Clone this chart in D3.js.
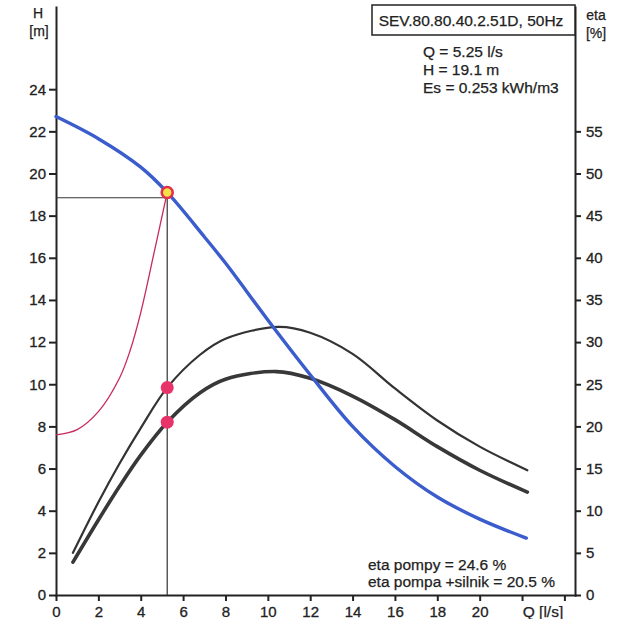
<!DOCTYPE html>
<html>
<head>
<meta charset="utf-8">
<script src="https://cdn.jsdelivr.net/npm/d3@7/dist/d3.min.js"></script>
<style>
	body { margin: 0; background: #fff; }
	svg { display: block; font-family: "Liberation Sans", Arial, sans-serif; }
	.axis path, .axis line { stroke: #222; stroke-width: 2; }
	.axis text { fill: #222; font-size: 15px; stroke: #222; stroke-width: 0.3; }
	.note { fill: #222; font-size: 15.5px; stroke: #222; stroke-width: 0.25; }
	.unit { fill: #222; font-size: 14px; stroke: #222; stroke-width: 0.25; }
</style>
</head>
<body>
<svg id="chart" width="627" height="619"></svg>
<script>
// flow [l/s] and head [m] of the pump curve
var headQ = [0, 2, 4, 5.25, 7, 8, 10, 12, 14, 16, 18, 20, 22.2];
var headH = [22.7, 21.65, 20.3, 19.1, 17.0, 15.75, 13.05, 10.45, 8.0, 6.1, 4.65, 3.6, 2.7];

// eta pompy [%]
var etaPumpQ = [0.8, 2, 3, 4, 5.25, 6.8, 8, 10.5, 12, 14, 16, 18, 20, 22.25];
var etaPump = [5.0, 11.0, 15.6, 19.8, 24.6, 28.5, 30.4, 31.8, 31.1, 28.6, 24.5, 20.7, 17.6, 14.8];

// eta pompa + silnik [%]
var etaTotalQ = [0.8, 2, 3, 4, 5.25, 6.8, 8, 10.4, 12, 14, 16, 18, 20, 22.25];
var etaTotal = [3.9, 8.9, 12.9, 16.6, 20.5, 24.0, 25.6, 26.5, 25.7, 23.6, 20.8, 17.6, 14.8, 12.2];

// system curve [m], ends in the duty point
var sysQ = [0, 1, 2, 3, 3.5, 4, 4.6, 5.25];
var sysH = [7.6, 7.85, 8.7, 10.3, 11.6, 13.4, 16.1, 19.1];

// duty point
var dutyQ = 5.25, dutyH = 19.1, dutyEtaPump = 24.6, dutyEtaTotal = 20.5;

var xTicks = [0, 2, 4, 6, 8, 10, 12, 14, 16, 18, 20, 22, 24];
var xLabels = ["0", "2", "4", "6", "8", "10", "12", "14", "16", "18", "20", "", ""];
var hTicks = [0, 2, 4, 6, 8, 10, 12, 14, 16, 18, 20, 22, 24];
var etaTicks = [0, 5, 10, 15, 20, 25, 30, 35, 40, 45, 50, 55];

var title = "SEV.80.80.40.2.51D, 50Hz";
var infoLines = ["Q = 5.25 l/s", "H = 19.1 m", "Es = 0.253 kWh/m3"];
var etaLines = ["eta pompy = 24.6 %", "eta pompa +silnik = 20.5 %"];

var svg = d3.select("#chart");

var X = d3.scaleLinear().domain([0, 24.5]).range([56, 575]);
var YH = d3.scaleLinear().domain([0, 27.9]).range([595, 7]);
var YE = d3.scaleLinear().domain([0, 69.75]).range([595, 7]);

function zip(a, b) {
	return a.map(function(d, i) { return [d, b[i]]; });
}

// axes
svg.append("g")
	.attr("class", "axis")
	.attr("transform", "translate(0,595)")
	.call(d3.axisBottom(X).tickValues(xTicks).tickSize(6).tickSizeOuter(0).tickPadding(5)
		.tickFormat(function(d, i) { return xLabels[i]; }));

svg.append("g")
	.attr("class", "axis")
	.attr("transform", "translate(56,0)")
	.call(d3.axisLeft(YH).tickValues(hTicks).tickSize(7).tickSizeOuter(0).tickPadding(3));

svg.append("g")
	.attr("class", "axis")
	.attr("transform", "translate(575,0)")
	.call(d3.axisRight(YE).tickValues(etaTicks).tickSize(6).tickSizeOuter(0).tickPadding(5));

svg.selectAll(".axis .domain").attr("stroke-linecap", "square");

// axis titles
svg.append("text").attr("class", "unit").attr("x", 38).attr("y", 18)
	.attr("text-anchor", "middle").text("H");
svg.append("text").attr("class", "unit").attr("x", 39).attr("y", 36)
	.attr("text-anchor", "middle").text("[m]");
svg.append("text").attr("class", "unit").attr("x", 596).attr("y", 20)
	.attr("text-anchor", "middle").text("eta");
svg.append("text").attr("class", "unit").attr("x", 596).attr("y", 38)
	.attr("text-anchor", "middle").text("[%]");
svg.append("text").attr("class", "note").attr("x", 543).attr("y", 617)
	.attr("text-anchor", "middle").text("Q [l/s]");

// title box
svg.append("rect")
	.attr("x", 372).attr("y", 5)
	.attr("width", 203).attr("height", 30)
	.attr("fill", "#fff")
	.attr("stroke", "#222")
	.attr("stroke-width", 1.5);
svg.append("text").attr("class", "note")
	.attr("x", 471).attr("y", 26)
	.attr("text-anchor", "middle")
	.text(title);

svg.selectAll(".info")
	.data(infoLines)
	.enter()
	.append("text")
	.attr("class", "note info")
	.attr("x", 423)
	.attr("y", function(d, i) { return 57 + i * 18; })
	.text(function(d) { return d; });

svg.selectAll(".etainfo")
	.data(etaLines)
	.enter()
	.append("text")
	.attr("class", "note etainfo")
	.attr("x", 368)
	.attr("y", function(d, i) { return 570 + i * 17; })
	.text(function(d) { return d; });

// duty point helper lines
svg.append("line")
	.attr("x1", X(0)).attr("x2", X(dutyQ))
	.attr("y1", YH(18.85)).attr("y2", YH(18.85))
	.attr("stroke", "#333").attr("stroke-width", 1.2);
svg.append("line")
	.attr("x1", X(dutyQ)).attr("x2", X(dutyQ))
	.attr("y1", YH(dutyH)).attr("y2", YH(0))
	.attr("stroke", "#333").attr("stroke-width", 1.2);

var lineH = d3.line()
	.x(function(d) { return X(d[0]); })
	.y(function(d) { return YH(d[1]); })
	.curve(d3.curveCatmullRom.alpha(0.5));
var lineE = d3.line()
	.x(function(d) { return X(d[0]); })
	.y(function(d) { return YE(d[1]); })
	.curve(d3.curveCatmullRom.alpha(0.5));

// system curve
svg.append("path")
	.attr("d", lineH(zip(sysQ, sysH)))
	.attr("fill", "none")
	.attr("stroke", "#c82a5a")
	.attr("stroke-width", 1.3);

// efficiency curves
svg.append("path")
	.attr("d", lineE(zip(etaPumpQ, etaPump)))
	.attr("fill", "none")
	.attr("stroke", "#333")
	.attr("stroke-width", 2.2)
	.attr("stroke-linecap", "round");
svg.append("path")
	.attr("d", lineE(zip(etaTotalQ, etaTotal)))
	.attr("fill", "none")
	.attr("stroke", "#383838")
	.attr("stroke-width", 3.6)
	.attr("stroke-linecap", "round");

// pump curve
svg.append("path")
	.attr("d", lineH(zip(headQ, headH)))
	.attr("fill", "none")
	.attr("stroke", "#3a5ccc")
	.attr("stroke-width", 3.4)
	.attr("stroke-linecap", "round");

// markers
svg.selectAll(".etadot")
	.data([dutyEtaPump, dutyEtaTotal])
	.enter()
	.append("circle")
	.attr("class", "etadot")
	.attr("cx", X(dutyQ))
	.attr("cy", function(d) { return YE(d); })
	.attr("r", 6.5)
	.attr("fill", "#e8336a");

svg.append("circle")
	.attr("cx", X(dutyQ))
	.attr("cy", YH(dutyH))
	.attr("r", 5.5)
	.attr("fill", "#f4e14a")
	.attr("stroke", "#e2304c")
	.attr("stroke-width", 2.6);
</script>
</body>
</html>
